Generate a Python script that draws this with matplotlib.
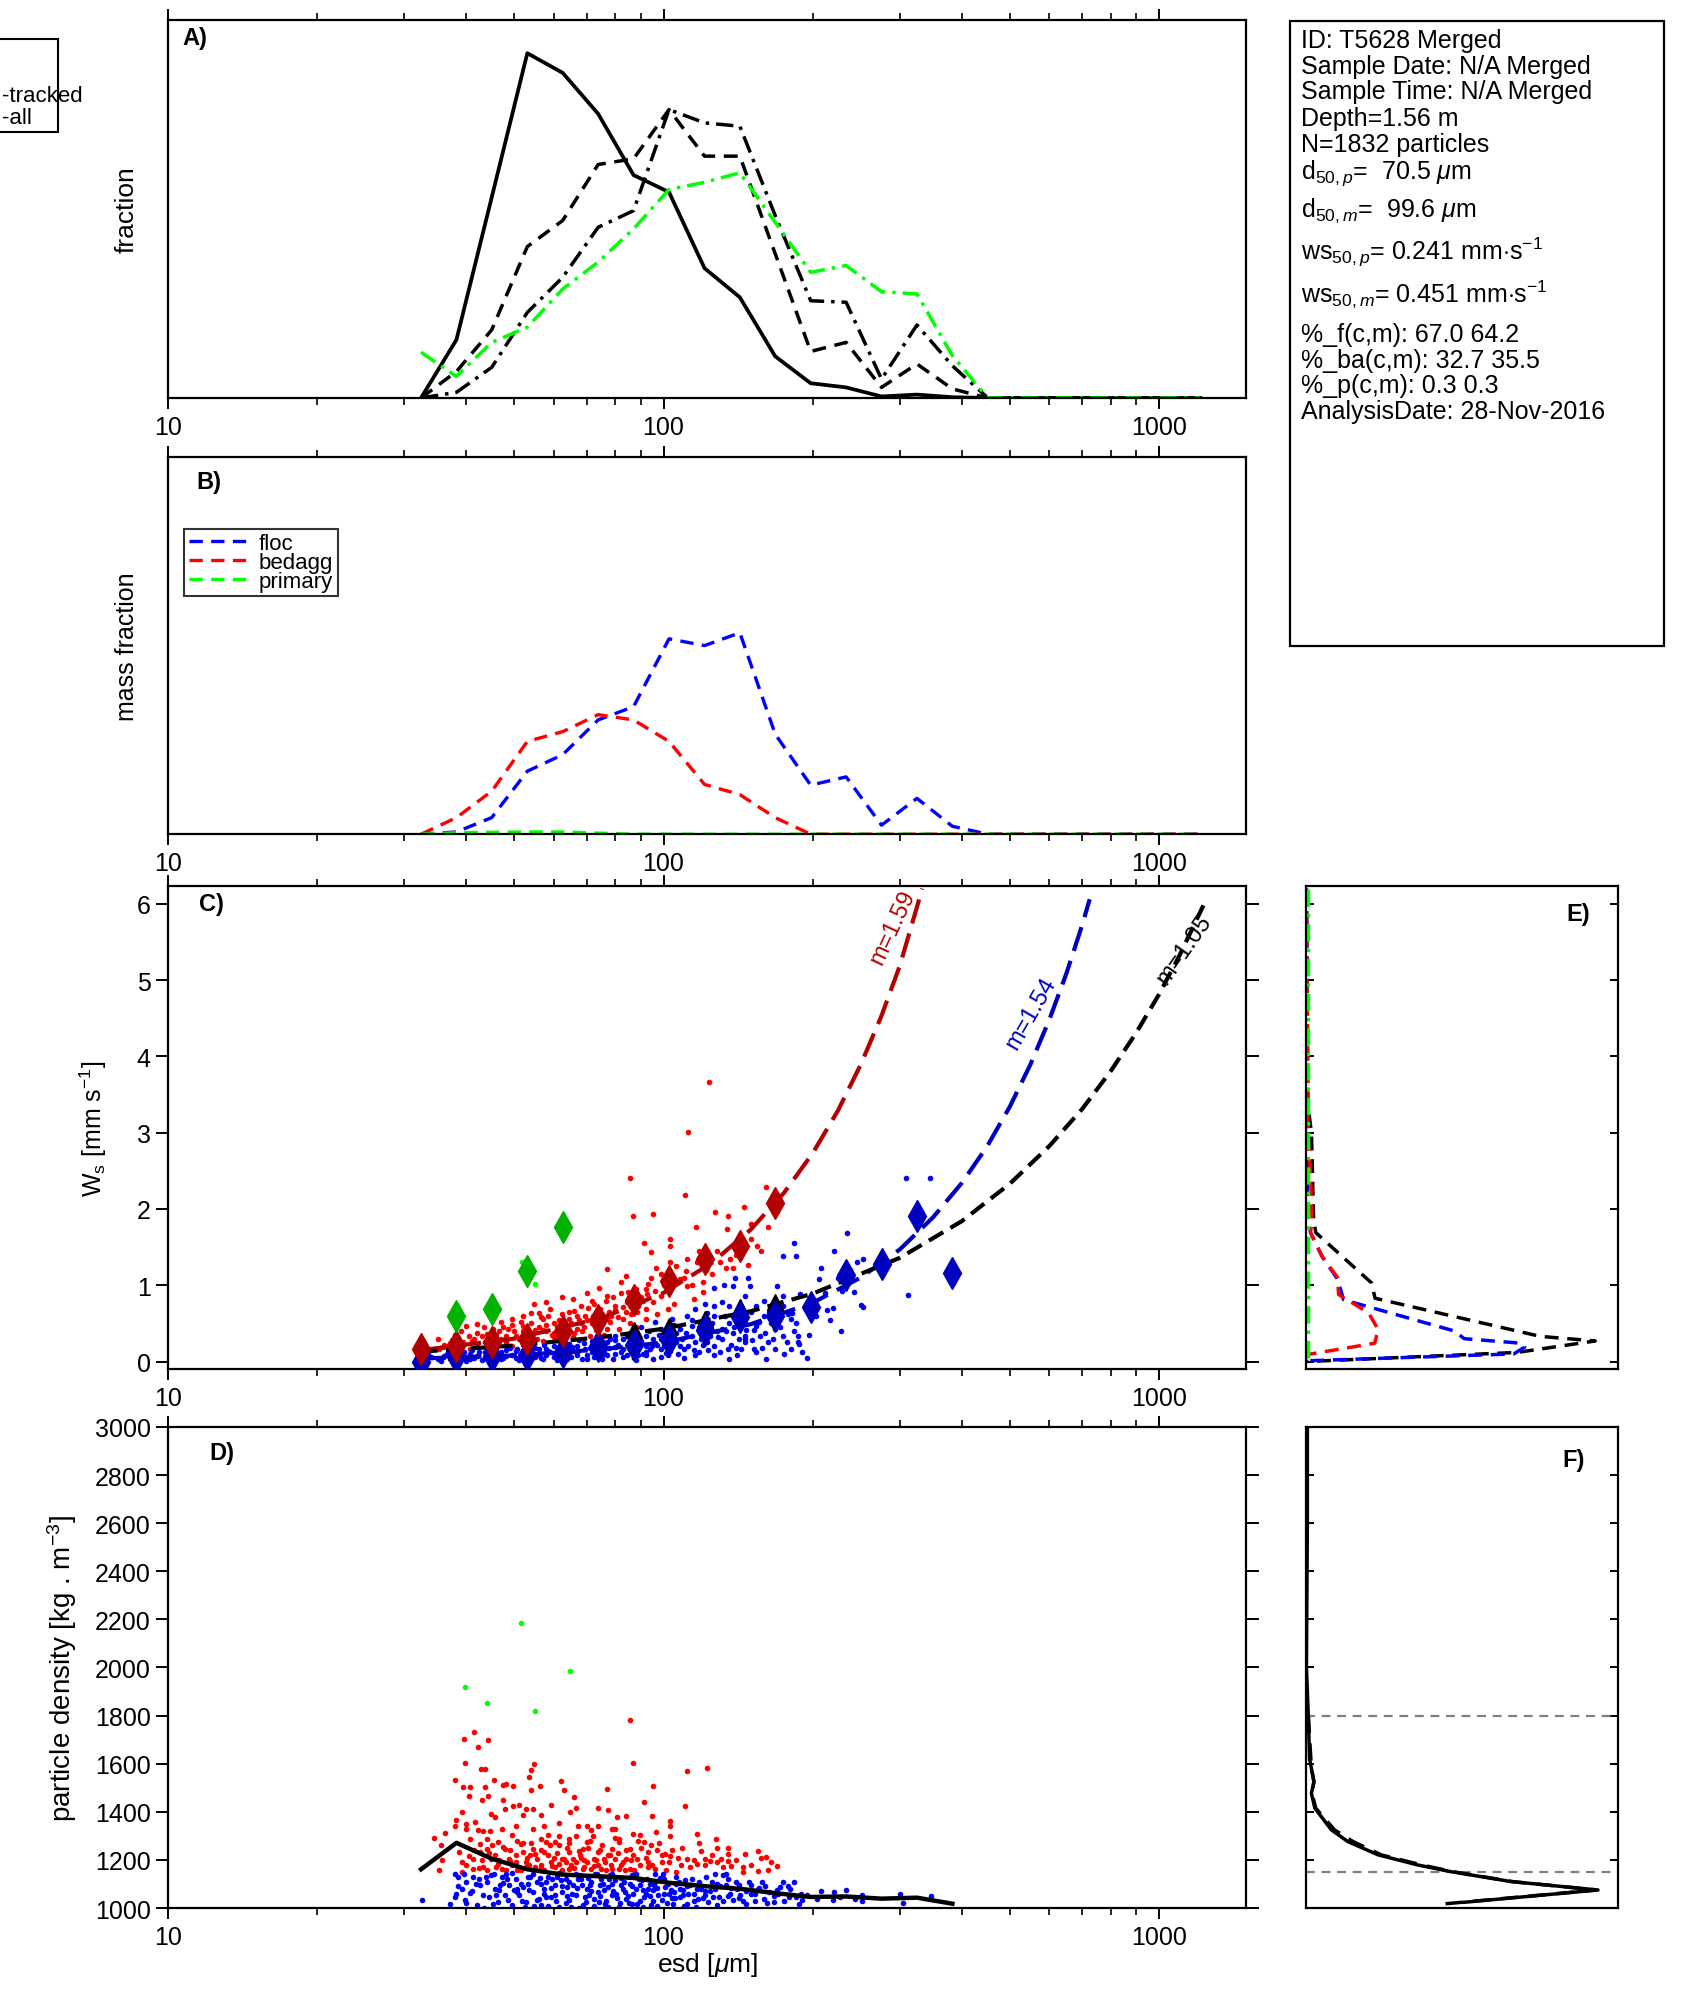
import numpy as np
import matplotlib
matplotlib.use('Agg')
import matplotlib.pyplot as plt
from matplotlib.patches import Rectangle
from matplotlib.ticker import FixedLocator, FixedFormatter, LogLocator, NullFormatter, NullLocator

plt.rcParams['font.family'] = ['Liberation Sans', 'DejaVu Sans']
plt.rcParams['mathtext.fontset'] = 'custom'
plt.rcParams['mathtext.rm'] = 'Liberation Sans'
plt.rcParams['mathtext.it'] = 'Liberation Sans:italic'
plt.rcParams['mathtext.bf'] = 'Liberation Sans:bold'
plt.rcParams['axes.linewidth'] = 1.6

# size bins (esd, um)
esd_bins = [32.4, 38.2, 45.0, 53.1, 62.6, 73.8, 87.0, 102.6, 121.0, 142.6, 168.1, 198.2,
            233.7, 275.5, 324.8, 383.0, 451.5, 532.3, 627.6, 740.0, 872.4, 1028.6, 1212.7]

# A) number / mass fractions (relative units)
frac_solid = [0, 0.154, 0.53, 0.911, 0.859, 0.751, 0.589, 0.544, 0.343, 0.266, 0.110, 0.039,
              0.028, 0.004, 0.009, 0.002, 0, 0, 0, 0, 0, 0, 0]
frac_dash = [0, 0.07, 0.18, 0.40, 0.469, 0.617, 0.632, 0.762, 0.639, 0.639, 0.381, 0.123,
             0.147, 0.028, 0.09, 0.024, 0, 0, 0, 0, 0, 0, 0]
frac_dashdot = [0, 0.015, 0.081, 0.226, 0.319, 0.451, 0.495, 0.762, 0.727, 0.718, 0.482, 0.257,
                0.253, 0.05, 0.193, 0.085, 0, 0, 0, 0, 0, 0, 0]
frac_green = [0.121, 0.057, 0.147, 0.187, 0.288, 0.359, 0.447, 0.551, 0.570, 0.595, 0.464, 0.332,
              0.35, 0.281, 0.275, 0.112, 0, 0, 0, 0, 0, 0, 0]

# B) mass fraction per class
mass_floc = [0, 0.006, 0.044, 0.167, 0.211, 0.303, 0.338, 0.518, 0.50, 0.534, 0.265, 0.13,
             0.152, 0.024, 0.095, 0.021, 0, 0, 0, 0, 0, 0, 0]
mass_bedagg = [0, 0.044, 0.114, 0.246, 0.272, 0.317, 0.303, 0.246, 0.132, 0.105, 0.044, 0,
               0, 0, 0, 0, 0, 0, 0, 0, 0, 0, 0]
mass_primary = [0, 0.004, 0.005, 0.006, 0.006, 0.003, 0, 0, 0, 0, 0, 0,
                0, 0, 0, 0, 0, 0, 0, 0, 0, 0, 0]

# C) bin means of settling velocity (mm/s)
ws_mean_bedagg = [0.16, 0.21, 0.25, 0.29, 0.40, 0.54, 0.81, 1.05, 1.35, 1.52, 2.08]
ws_mean_floc = [0.0, 0.06, 0.07, 0.09, 0.13, 0.20, 0.22, 0.28, 0.42, 0.58, 0.60, 0.72,
                1.14, 1.28, 1.91, 1.16]
ws_mean_primary = [0.60, 0.69, 1.19, 1.77]
ws_mean_all = [0.09, 0.13, 0.16, 0.19, 0.24, 0.31, 0.42, 0.47, 0.56, 0.71, 0.78]

# C) fitted curves
fit_red_esd = [32.4, 50, 75, 100, 125, 150, 175, 200, 225, 250, 275, 300, 333]
fit_red_ws = [0.15, 0.30, 0.57, 0.90, 1.29, 1.73, 2.21, 2.73, 3.29, 3.89, 4.52, 5.19, 6.2]
fit_blue_esd = [32.4, 50, 75, 100, 150, 200, 250, 300, 350, 400, 450, 500, 550, 600, 650, 700, 725]
fit_blue_ws = [0.04, 0.08, 0.16, 0.25, 0.49, 0.77, 1.10, 1.47, 1.89, 2.34, 2.82, 3.34, 3.89,
               4.47, 5.08, 5.72, 6.06]
fit_black_esd = [32.4, 50, 75, 100, 150, 200, 300, 400, 500, 600, 700, 800, 900, 1000, 1100, 1230]
fit_black_ws = [0.13, 0.21, 0.32, 0.43, 0.66, 0.89, 1.36, 1.84, 2.33, 2.82, 3.31, 3.81, 4.31,
                4.81, 5.32, 5.98]

# C) individual particles (esd um, ws mm/s)
c_red = np.array([
    (85.7, 2.41), (110.4, 2.18), (95.3, 1.93), (86.9, 1.91), (127.3, 1.96), (134.7, 1.91),
    (145.4, 2.03), (160.9, 2.29), (116.5, 1.76), (134.3, 1.74), (162.4, 1.77), (103.2, 1.61),
    (103.2, 1.52), (91.3, 1.55), (94.5, 1.43), (111.4, 1.35), (103.2, 1.31), (154.7, 1.52),
    (148, 1.26), (133.6, 1.23), (138.4, 1.23), (77.0, 1.21), (83.9, 1.12), (94.5, 1.10),
    (96.7, 1.22), (110.8, 1.19), (120, 1.04), (120, 0.91), (111.8, 0.99), (74.1, 0.96),
    (82, 1.04), (77, 0.86), (84.9, 0.91), (92, 0.95), (98.8, 0.86), (62.3, 0.84), (65.7, 0.82),
    (54.8, 0.75), (54, 0.64), (56, 0.64), (59, 0.69), (68, 0.73), (71.8, 0.80), (79.8, 0.73),
    (84.2, 0.78), (88.8, 0.73), (92, 0.69), (95.3, 0.78), (102.3, 0.69), (40, 0.47), (42.1, 0.49),
    (45.2, 0.43), (49.4, 0.56), (52.1, 0.60), (48.6, 0.43), (52.1, 0.40), (57, 0.56), (60.1, 0.51),
    (64.5, 0.56), (69.3, 0.60), (74.3, 0.69), (78.4, 0.60), (82.7, 0.56), (85.7, 0.51), (39.3, 0.25),
    (41.4, 0.29), (36.6, 0.21), (35.3, 0.16), (43.7, 0.25), (46.9, 0.29), (50.3, 0.34), (54, 0.36),
    (58, 0.40), (62.3, 0.47), (66.8, 0.43), (71.8, 0.51), (77, 0.56), (81.2, 0.43), (92, 0.56),
    (77, 0.43), (71.1, 0.34), (65.7, 0.32), (61.2, 0.29), (57, 0.27), (53.1, 0.25), (49.4, 0.21),
    (45.2, 0.19), (40.6, 0.16), (123.4, 3.66), (112.1, 3.01), (88, 0.45), (97, 0.62), (105, 0.75),
    (115, 0.82), (125, 1.15), (130, 1.30), (100, 1.0), (108, 1.08), (140, 1.40), (150, 1.6),
    (118, 1.45), (35, 0.30), (38, 0.35), (44, 0.36), (48, 0.33), (52, 0.47), (56, 0.45), (60, 0.38),
    (64, 0.35), (68, 0.50), (73, 0.42), (76, 0.35), (86, 0.62), (90, 0.85), (66, 0.66), (70, 0.90),
    (58, 0.78), (47, 0.52), (42, 0.38), (36, 0.22), (37.5, 0.28), (39, 0.40), (40.5, 0.33),
    (42, 0.22), (43.5, 0.45), (45, 0.30), (46.5, 0.40), (48, 0.25), (49.5, 0.48), (51, 0.30),
    (52.5, 0.38), (54, 0.50), (55.5, 0.30), (57, 0.42), (58.5, 0.60), (60, 0.32), (61.5, 0.55),
    (63, 0.40), (64.5, 0.65), (66, 0.38), (67.5, 0.55), (69, 0.45), (70.5, 0.70), (72, 0.60),
    (73.5, 0.48), (75, 0.62), (76.5, 0.80), (78, 0.52), (80, 0.68), (82, 0.90), (84, 0.65),
    (86, 0.75), (88, 0.95), (91, 0.80), (93, 1.02), (96, 0.92), (99, 1.15), (102, 0.95),
    (106, 1.25), (110, 1.10), (114, 1.00), (117, 1.30), (122, 1.20), (128, 1.45), (136, 1.35),
    (142, 1.55), (150, 1.80), (157, 1.45), (35.8, 0.19), (37, 0.24), (38.5, 0.31), (41, 0.27),
    (43, 0.33), (44.5, 0.28), (46, 0.35), (47.5, 0.45), (50, 0.40), (51.5, 0.52), (53, 0.33),
    (55, 0.42), (56.5, 0.58), (58, 0.48), (59.5, 0.35), (61, 0.45), (62.5, 0.62), (65, 0.50),
    (67, 0.60), (68.5, 0.40), (70, 0.55), (72.5, 0.75), (74.5, 0.55), (77.5, 0.65), (79, 0.85),
    (81, 0.58), (83, 0.72), (85.5, 0.85), (88.5, 0.65), (92.5, 0.88)])
c_blue = np.array([
    (309.3, 2.41), (345, 2.40), (234.4, 1.69), (183.8, 1.55), (184.8, 1.38), (174.3, 1.39),
    (221.4, 1.45), (208, 1.23), (206.2, 1.08), (252.9, 1.34), (246.3, 1.30), (229.5, 0.93),
    (242, 0.91), (252.9, 0.71), (213.7, 0.67), (216.7, 0.54), (228.6, 0.40), (312, 0.87),
    (250, 0.74), (220, 0.70), (188, 0.23), (126.6, 0.97), (132.3, 1.00), (139.6, 1.10),
    (138.4, 0.99), (148, 1.10), (149.8, 0.99), (169.7, 0.99), (188.7, 0.88), (159.4, 0.80),
    (153.9, 0.73), (174.3, 0.73), (182.1, 0.64), (187, 0.34), (187, 0.25), (183.7, 0.40),
    (174.3, 0.34), (168.2, 0.16), (160.9, 0.04), (152.6, 0.16), (145.9, 0.25), (140.8, 0.08),
    (134.7, 0.16), (131.1, 0.78), (126.6, 0.73), (122.2, 0.64), (120, 0.51), (115.9, 0.69),
    (111.8, 0.60), (107.9, 0.43), (104.2, 0.56), (102.3, 0.34), (98.8, 0.43), (95.3, 0.29),
    (92, 0.34), (88.8, 0.21), (85.7, 0.25), (84.2, 0.08), (109.9, 0.16), (115.9, 0.25),
    (124.3, 0.34), (131.1, 0.43), (135.9, 0.51), (140.8, 0.60), (145.9, 0.51), (153.9, 0.47),
    (159.4, 0.60), (165.2, 0.51), (165.2, 0.73), (174.3, 0.86), (145.9, 0.86), (135.9, 0.73),
    (126.6, 0.60), (122.2, 0.43), (113.9, 0.34), (106, 0.25), (98.8, 0.16), (92, 0.12),
    (82.7, 0.16), (77, 0.08), (71.8, 0.12), (66.8, 0.08), (62.3, 0.05), (58, 0.08), (54, 0.03),
    (50.3, 0.05), (46.9, 0.03), (43.7, 0.05), (40.6, 0.03), (37.9, 0.01), (77, 0.25), (79.8, 0.34),
    (71.8, 0.27), (66.8, 0.21), (62.3, 0.16), (58, 0.16), (54, 0.12), (50.3, 0.14), (46.9, 0.12),
    (43.7, 0.12), (40.6, 0.10), (37.9, 0.08), (74.3, 0.16), (69.3, 0.16), (64.5, 0.12), (60.1, 0.21),
    (56, 0.16), (85.7, 0.38), (92, 0.21), (98.8, 0.29), (106, 0.38), (113.9, 0.47), (102.3, 0.08),
    (95.3, 0.03), (88.8, 0.08), (79.8, 0.10), (82.7, 0.29), (71.8, 0.21), (64.5, 0.23), (88.8, 0.34),
    (126.6, 0.21), (117.9, 0.12), (122.2, 0.25), (131.1, 0.29), (138.4, 0.38), (145.9, 0.34),
    (156.6, 0.34), (168.2, 0.43), (180.6, 0.56), (177.4, 0.25), (162.4, 0.25), (153.9, 0.12),
    (143.4, 0.16), (135.9, 0.03), (126.6, 0.08), (180.6, 0.16), (32.5, 0.02), (35, 0.04),
    (36, 0.07), (39, 0.05), (42, 0.07), (45, 0.09), (48, 0.07), (52, 0.09), (55, 0.06), (60, 0.11),
    (65, 0.06), (70, 0.09), (75, 0.04), (80, 0.19), (86, 0.14), (90, 0.45), (96, 0.52), (100, 0.20),
    (110, 0.05), (118, 0.40), (150, 0.65), (160, 0.38), (170, 0.55), (175, 0.10), (195, 0.05),
    (200, 0.72), (34, 0.06), (37, 0.12), (38.5, 0.03), (41, 0.15), (43, 0.02), (44.5, 0.08),
    (46, 0.16), (47.5, 0.05), (49, 0.18), (51, 0.02), (53, 0.15), (54.5, 0.20), (56.5, 0.05),
    (57.5, 0.22), (59, 0.12), (61, 0.02), (62, 0.25), (63.5, 0.09), (66, 0.14), (67.5, 0.28),
    (68.5, 0.04), (71, 0.18), (72.5, 0.06), (74, 0.26), (76, 0.13), (78, 0.30), (79, 0.04),
    (81, 0.22), (83, 0.06), (84.5, 0.33), (87, 0.18), (88, 0.02), (90, 0.27), (91, 0.10),
    (93.5, 0.40), (94, 0.16), (97, 0.22), (99, 0.06), (101, 0.36), (103, 0.14), (105, 0.48),
    (107, 0.10), (109, 0.30), (112, 0.20), (114, 0.55), (116, 0.08), (119, 0.30), (121, 0.75),
    (123, 0.15), (125, 0.50), (128, 0.40), (130, 0.12), (133, 0.60), (137, 0.22), (139, 0.45),
    (142, 0.30), (144, 0.70), (147, 0.42), (151, 0.28), (156, 0.52), (158, 0.18), (163, 0.65),
    (166, 0.30), (172, 0.45), (178, 0.62), (185, 0.50), (190, 0.12), (197, 0.35), (203, 0.60),
    (212, 0.90), (225, 1.10), (238, 1.20), (33.5, 0.10), (35.5, 0.01), (36.5, 0.10), (38, 0.06),
    (39.5, 0.13), (40, 0.01), (41.5, 0.05), (42.5, 0.12), (44, 0.16), (45.5, 0.03), (46.5, 0.10),
    (48, 0.15), (49.5, 0.08), (50.5, 0.17), (52, 0.04), (53.5, 0.11), (55, 0.18), (56, 0.09),
    (57, 0.03), (58.5, 0.14), (60, 0.06), (61.5, 0.17), (63, 0.13), (64, 0.03), (65.5, 0.19),
    (67, 0.11), (69, 0.24), (70, 0.03), (72, 0.15), (73.5, 0.22), (75, 0.09), (77.5, 0.18),
    (80, 0.28), (82, 0.12), (85, 0.20), (87, 0.05), (89, 0.30), (92, 0.08), (95, 0.20), (98, 0.35),
    (101, 0.11), (104, 0.28), (108, 0.20), (111, 0.38), (115, 0.15), (120, 0.22), (124, 0.45),
    (129, 0.32), (134, 0.40), (140, 0.18), (146, 0.30), (152, 0.42)])
c_green = np.array([(51.7, 1.31), (55.0, 1.02)])

# D) individual particles (esd um, density kg/m3)
d_red = np.array([
    (37.9, 1533), (39.6, 1704), (41.5, 1730), (42.3, 1669), (44.3, 1700), (39.8, 1604), (42.9, 1576),
    (43.7, 1579), (39.4, 1503), (40.6, 1503), (43.7, 1503), (40.5, 1467), (43.1, 1451), (44.3, 1465),
    (45.4, 1533), (47.5, 1510), (48.1, 1517), (49.7, 1507), (53.6, 1544), (54.0, 1575), (54.7, 1600),
    (53.9, 1489), (56.4, 1507), (62.2, 1529), (63.0, 1492), (65.9, 1463), (76.9, 1496), (85.5, 1783),
    (86.6, 1604), (95.2, 1508), (111.5, 1571), (122.3, 1583), (110.5, 1425), (91.2, 1442), (94.7, 1384),
    (102.9, 1363), (103.1, 1342), (103.1, 1298), (116.8, 1309), (127.5, 1288), (134.7, 1251), (146, 1226),
    (160.8, 1213), (169.6, 1175), (162.4, 1159), (155.3, 1152), (144.8, 1148), (137, 1175), (135, 1226),
    (130.4, 1205), (128, 1191), (124.1, 1195), (121, 1205), (119.1, 1237), (116.8, 1183), (111.5, 1205),
    (108.7, 1180), (106, 1150), (104.1, 1240), (100.9, 1226), (99.2, 1191), (96.5, 1316), (94.4, 1260),
    (91.4, 1274), (89.8, 1302), (86.9, 1309), (84.1, 1381), (80.7, 1378), (80.0, 1330), (77.4, 1406),
    (73.7, 1416), (73.7, 1343), (71.3, 1323), (70.1, 1343), (67.3, 1343), (66.7, 1417), (64.8, 1399),
    (61.4, 1355), (59.4, 1429), (57.5, 1343), (56.5, 1385), (54.6, 1413), (52.8, 1413), (52.0, 1385),
    (51.2, 1429), (49.7, 1424), (47.9, 1413), (47.5, 1451), (47.1, 1330), (45.6, 1378), (44.8, 1392),
    (44.6, 1319), (43.3, 1319), (42.3, 1325), (41.6, 1357), (40.6, 1288), (39.9, 1350), (39.9, 1330),
    (39.2, 1399), (38.1, 1368), (37.9, 1343), (36.2, 1313), (35.5, 1260), (34.4, 1292), (35.3, 1159),
    (35.7, 1201), (38.6, 1233), (39.2, 1191), (41.2, 1205), (42.7, 1233), (44.1, 1247), (46.3, 1274),
    (47.9, 1247), (49.5, 1302), (50.3, 1219), (51.6, 1267), (52.8, 1191), (54.6, 1247), (56.5, 1288),
    (58.4, 1219), (60.4, 1274), (62.4, 1205), (64.6, 1233), (66.7, 1191), (68.9, 1247), (71.3, 1163),
    (73.7, 1233), (76.1, 1191), (78.7, 1247), (81.3, 1274), (84.1, 1205), (86.9, 1219), (89.8, 1177),
    (92.9, 1191), (96.0, 1163), (78.7, 1163), (73.7, 1177), (68.9, 1163), (64.6, 1163), (60.4, 1170),
    (56.5, 1177), (52.8, 1170), (49.5, 1177), (46.3, 1184), (43.3, 1170), (41.2, 1163), (39.2, 1150),
    (45.6, 1219), (48.7, 1205), (55.5, 1205), (59.4, 1191), (63.5, 1191), (67.8, 1219), (72.5, 1205),
    (77.4, 1219), (82.7, 1191), (85.5, 1247), (92.9, 1233), (99.2, 1219), (102.6, 1191), (58.4, 1302),
    (61.4, 1260), (54.6, 1330), (50.3, 1343), (44.1, 1288), (42.7, 1267), (85.5, 1163), (81.3, 1163),
    (64.6, 1288), (70.1, 1274), (78.7, 1330), (81.3, 1288), (50.3, 1191), (53.7, 1219), (57.5, 1233),
    (61.4, 1184), (65.6, 1205), (70.1, 1191), (74.9, 1163), (80.0, 1205), (88.3, 1205), (52.0, 1233),
    (47.1, 1163), (44.8, 1205), (40, 1180), (41.5, 1240), (43, 1200), (44, 1160), (45, 1260),
    (46.5, 1200), (48, 1160), (49, 1240), (50.5, 1280), (51.5, 1160), (53, 1210), (54, 1270),
    (55, 1170), (56.5, 1240), (57.5, 1160), (59, 1260), (60, 1210), (61.5, 1300), (62.5, 1160),
    (64, 1250), (65, 1180), (66.5, 1300), (68, 1210), (69, 1170), (70.5, 1250), (72, 1300),
    (73, 1200), (75, 1260), (76.5, 1160), (78, 1220), (80, 1290), (82, 1180), (84, 1240),
    (87, 1160), (90, 1250), (93, 1170), (97, 1240), (101, 1160), (107, 1210), (113, 1170),
    (118, 1270), (125, 1220), (132, 1170), (140, 1200), (150, 1180), (157, 1210), (40.5, 1215),
    (42.5, 1165), (44.5, 1230), (46, 1170), (47.5, 1255), (49, 1195), (50.5, 1160), (52, 1270),
    (53.5, 1180), (55, 1225), (56.5, 1165), (58, 1275), (59.5, 1175), (61, 1230), (63, 1205),
    (64.5, 1270), (66, 1165), (67.5, 1235), (69, 1200), (71, 1280), (72.5, 1175), (74.5, 1240),
    (76, 1205), (78.5, 1180), (81, 1230), (83.5, 1160), (86, 1200), (89, 1280), (92, 1210),
    (95, 1180), (98, 1270), (103, 1215), (109, 1250), (115, 1200), (121, 1180), (128, 1250),
    (135, 1195), (145, 1170), (155, 1235), (165, 1190)])
d_blue = np.array([
    (32.5, 1032), (37.1, 1018), (38.0, 1046), (38.4, 1129), (39.2, 1078), (40.6, 1062), (41.2, 1129),
    (42.0, 1011), (43.3, 1053), (44.1, 1108), (45.6, 1080), (46.3, 1025), (47.1, 1129), (47.9, 1053),
    (48.7, 1094), (49.5, 1011), (50.3, 1122), (51.2, 1053), (52.0, 1087), (52.8, 1025), (53.7, 1129),
    (54.6, 1066), (55.5, 1108), (56.5, 1011), (57.5, 1080), (58.4, 1129), (59.4, 1046), (60.4, 1094),
    (61.4, 1004), (62.4, 1066), (63.5, 1122), (64.6, 1032), (65.6, 1094), (66.7, 1053), (67.8, 1136),
    (68.9, 1011), (70.1, 1080), (71.3, 1108), (72.5, 1039), (73.7, 1066), (74.9, 1122), (76.1, 1018),
    (77.4, 1087), (78.7, 1053), (80.0, 1115), (81.3, 1004), (82.7, 1080), (84.1, 1039), (85.5, 1101),
    (86.9, 1060), (88.3, 1018), (89.8, 1094), (91.4, 1046), (92.9, 1080), (94.4, 1011), (96.0, 1108),
    (97.6, 1053), (99.2, 1032), (100.9, 1087), (102.6, 1060), (104.3, 1018), (106.0, 1101),
    (107.8, 1046), (109.6, 1073), (111.5, 1018), (113.3, 1094), (115.2, 1060), (117.2, 1039),
    (119.1, 1080), (121.1, 1053), (123.1, 1025), (125.2, 1108), (127.3, 1080), (129.4, 1046),
    (131.6, 1136), (133.8, 1094), (136.0, 1060), (138.3, 1032), (140.6, 1080), (143.0, 1053),
    (146.5, 1018), (149.0, 1108), (152.7, 1060), (155.3, 1080), (159.2, 1039), (163.2, 1066),
    (167.3, 1025), (169.8, 1073), (174.4, 1108), (178.8, 1046), (183.3, 1108), (187.9, 1018),
    (189.5, 1060), (204.2, 1039), (207.6, 1069), (221, 1066), (227, 1046), (234, 1073), (243, 1039),
    (252, 1053), (252, 1028), (300, 1060), (305, 1022), (346, 1048), (220, 1032), (39.9, 1108),
    (42.7, 1094), (44.8, 1136), (46.0, 1053), (48.3, 1122), (50.7, 1080), (53.3, 1129), (56.0, 1039),
    (58.0, 1108), (60.9, 1129), (64.0, 1087), (67.3, 1122), (70.7, 1053), (74.3, 1094), (78.0, 1136),
    (82.0, 1094), (86.2, 1136), (90.6, 1115), (95.2, 1073), (100.1, 1122), (105.2, 1066),
    (110.5, 1115), (116.2, 1004), (122.1, 1129), (128.4, 1011), (134.9, 1122), (141.8, 1094),
    (150.3, 1094), (157.9, 1108), (171.5, 1087), (180.3, 1080), (37.9, 1143), (78.7, 1143),
    (96.0, 1143), (127.3, 1143), (133.8, 1143), (38.5, 1090), (39.5, 1140), (40, 1020), (41, 1070),
    (42.5, 1120), (43.5, 1000), (44.5, 1045), (45.5, 1140), (46.5, 1075), (47.5, 1105), (48.5, 1035),
    (49.5, 1145), (50.5, 1065), (51.5, 1100), (52.5, 1005), (53.5, 1075), (54.5, 1140), (55.5, 1035),
    (56.5, 1100), (57.5, 1060), (58.5, 1010), (59.5, 1120), (60.5, 1055), (61.5, 1145), (62.5, 1090),
    (63.5, 1020), (64.5, 1110), (65.5, 1060), (66.5, 1140), (67.5, 1000), (68.5, 1095), (69.5, 1045),
    (70.5, 1125), (71.5, 1070), (72.5, 1010), (73.5, 1140), (74.5, 1050), (75.5, 1100), (76.5, 1030),
    (77.5, 1120), (79, 1070), (80.5, 1040), (82, 1125), (83.5, 1065), (85, 1020), (86.5, 1090),
    (88, 1140), (89.5, 1030), (91, 1075), (92.5, 1120), (94, 1050), (95.5, 1095), (97, 1010),
    (98.5, 1125), (100, 1060), (102, 1100), (104, 1040), (106, 1130), (108, 1080), (110, 1010),
    (112, 1060), (114, 1120), (117, 1080), (120, 1040), (124, 1070), (128, 1100), (132, 1030),
    (137, 1085), (142, 1040), (147, 1070), (153, 1030), (160, 1090), (167, 1050), (175, 1030),
    (185, 1045), (195, 1055), (38.2, 1060), (39.8, 1035), (41.8, 1100), (43.8, 1130), (45.2, 1015),
    (46.8, 1095), (48.2, 1140), (49.8, 1075), (51.8, 1030), (53.2, 1100), (54.8, 1010), (56.2, 1125),
    (57.8, 1045), (59.2, 1085), (60.8, 1030), (62.2, 1115), (63.8, 1050), (65.2, 1005), (66.8, 1085),
    (68.2, 1120), (69.8, 1025), (71.2, 1095), (72.8, 1140), (74.2, 1025), (75.8, 1075), (77.2, 1005),
    (78.8, 1100), (80.2, 1060), (81.8, 1020), (83.2, 1110), (84.8, 1050), (86.2, 1015), (87.8, 1080),
    (89.2, 1120), (90.8, 1005), (92.2, 1060), (93.8, 1100), (95.2, 1030), (97.2, 1085), (99.8, 1140),
    (101.5, 1020), (103.5, 1075), (105.5, 1040), (107.5, 1110), (109.5, 1055), (111.5, 1090),
    (115, 1030), (118, 1110), (121, 1070), (126, 1045), (130, 1090), (135, 1050), (140, 1110),
    (145, 1030), (150, 1060), (156, 1085), (162, 1020), (170, 1060), (178, 1090), (190, 1035)])
d_green = np.array([(39.7, 1920), (44.0, 1853), (51.6, 2186), (55.0, 1820), (64.7, 1986)])

# D) bin mean density
dens_mean = [1161, 1271, 1205, 1161, 1139, 1132, 1125, 1105, 1091, 1080, 1062, 1046, 1048, 1039, 1043, 1018]

# E) settling velocity distributions (fraction, ws)
e_black_f = [0.0, 0.005, 0.016, 0.018, 0.023, 0.03, 0.209, 0.22, 0.75, 0.926, 0.676, 0.0]
e_black_ws = [6.2, 3.35, 3.0, 2.7, 1.86, 1.69, 1.03, 0.83, 0.33, 0.27, 0.12, 0.0]
e_blue_f = [0.0, 0.003, 0.013, 0.05, 0.10, 0.119, 0.475, 0.506, 0.69, 0.70, 0.665, 0.0]
e_blue_ws = [6.2, 2.0, 1.69, 1.38, 1.08, 0.81, 0.40, 0.30, 0.24, 0.19, 0.10, 0.01]
e_red_f = [0.0, 0.005, 0.012, 0.018, 0.013, 0.05, 0.10, 0.103, 0.199, 0.23, 0.219, 0.0, 0.0]
e_red_ws = [6.2, 3.0, 2.56, 1.86, 1.69, 1.38, 1.10, 0.88, 0.64, 0.42, 0.24, 0.09, 0.0]
e_green_f = [0.004, 0.004]
e_green_ws = [6.2, 0.0]

# F) density distributions (fraction, density)
f_solid_f = [0.003, 0.003, 0.0, 0.006, 0.01, 0.016, 0.024, 0.016, 0.027, 0.08, 0.133, 0.23, 0.357,
             0.464, 0.656, 0.935, 0.507]
f_solid_d = [3000, 2600, 2000, 1800, 1620, 1580, 1525, 1477, 1415, 1325, 1276, 1221, 1179, 1151,
             1110, 1075, 1024]
f_dash_f = [0.006, 0.016, 0.024, 0.018, 0.03, 0.09, 0.15, 0.24, 0.37, 0.47, 0.66, 0.93, 0.44]
f_dash_d = [1800, 1580, 1525, 1477, 1415, 1325, 1276, 1221, 1179, 1151, 1110, 1075, 1017]
f_limits = [1800, 1150]

info_lines = ["ID: T5628 Merged", "Sample Date: N/A Merged", "Sample Time: N/A Merged",
              "Depth=1.56 m", "N=1832 particles",
              r"d$_{50,p}$=  70.5 $\mu$m", r"d$_{50,m}$=  99.6 $\mu$m",
              r"ws$_{50,p}$= 0.241 mm$\cdot$s$^{-1}$", r"ws$_{50,m}$= 0.451 mm$\cdot$s$^{-1}$",
              "%_f(c,m): 67.0 64.2", "%_ba(c,m): 32.7 35.5", "%_p(c,m): 0.3 0.3",
              "AnalysisDate: 28-Nov-2016"]
info_y = [32, 52, 72, 93, 113, 135, 164, 197, 229, 261, 281, 301, 321]

DRED = (0.7, 0, 0)
DBLUE = (0, 0, 0.75)
DGREEN = (0, 0.7, 0)
LIME = (0, 1, 0)
TICK_FS = 18
DOT = 16

W, H = 1320.0, 1570.6


def rect(l, r, t, b):
    return [l / W, 1 - b / H, (r - l) / W, (b - t) / H]


def esd_axis(ax):
    ax.set_xscale('log')
    ax.set_xlim(10, 1500)
    ax.xaxis.set_major_locator(FixedLocator([10, 100, 1000]))
    ax.xaxis.set_major_formatter(FixedFormatter(['10', '100', '1000']))
    ax.xaxis.set_minor_locator(LogLocator(base=10, subs=np.arange(2, 10)))
    ax.xaxis.set_minor_formatter(NullFormatter())
    ax.tick_params(axis='x', which='both', direction='out', top=True, bottom=True,
                   labelsize=TICK_FS, pad=4)
    ax.tick_params(axis='x', which='major', length=8, width=1.4)
    ax.tick_params(axis='x', which='minor', length=5, width=1.2)


fig = plt.figure(figsize=(16.94, 20.15), dpi=100)

# ---- A
axA = fig.add_axes(rect(131, 971, 16, 311))
esd_axis(axA)
axA.plot(esd_bins, frac_solid, color='k', lw=2.7)
axA.plot(esd_bins, frac_dash, color='k', lw=2.5, dashes=(4, 2.5))
axA.plot(esd_bins, frac_dashdot, color='k', lw=2.5, dashes=(5, 2, 1, 2))
axA.plot(esd_bins, frac_green, color=LIME, lw=2.5, dashes=(5, 2, 1, 2))
axA.set_ylim(0, 1)
axA.yaxis.set_major_locator(NullLocator())
axA.set_ylabel('fraction', fontsize=19)
axA.yaxis.set_label_coords(-0.027, 0.5)
axA.text(0.013, 0.953, 'A)', transform=axA.transAxes, fontsize=17, fontweight='bold', va='center')

# partial legend of panel A, cut off at the figure edge
fig.patches.append(Rectangle((-0.05, 1 - 104 / H), 0.05 + 45 / W, 73 / H, transform=fig.transFigure,
                             fill=False, edgecolor='k', lw=1.5))
fig.text(0.001, 1 - 75 / H, '-tracked', fontsize=16, va='center')
fig.text(0.001, 1 - 92 / H, '-all', fontsize=16, va='center')

# ---- B
axB = fig.add_axes(rect(131, 971, 357, 651))
esd_axis(axB)
axB.plot(esd_bins, mass_floc, color='b', lw=2.4, dashes=(4, 2.5), label='floc')
axB.plot(esd_bins, mass_bedagg, color='r', lw=2.4, dashes=(4, 2.5), label='bedagg')
axB.plot(esd_bins, mass_primary, color=LIME, lw=2.4, dashes=(4, 2.5), label='primary')
axB.set_ylim(0, 1)
axB.yaxis.set_major_locator(NullLocator())
axB.set_ylabel('mass fraction', fontsize=18)
axB.yaxis.set_label_coords(-0.027, 0.5)
axB.text(0.026, 0.935, 'B)', transform=axB.transAxes, fontsize=17, fontweight='bold', va='center')
leg = axB.legend(loc='upper left', bbox_to_anchor=(0.015, 0.81), fontsize=16, frameon=True,
                 fancybox=False, handlelength=2.9, labelspacing=-0.1, borderpad=0.2,
                 handletextpad=0.25, borderaxespad=0)
leg.get_frame().set_edgecolor('k')
leg.get_frame().set_linewidth(1.5)

# ---- C
axC = fig.add_axes(rect(131, 971, 691, 1068))
esd_axis(axC)
axC.scatter(c_red[:, 0], c_red[:, 1], s=DOT, color='r', linewidths=0, zorder=2)
axC.scatter(c_blue[:, 0], c_blue[:, 1], s=DOT, color='b', linewidths=0, zorder=2)
axC.scatter(c_green[:, 0], c_green[:, 1], s=DOT, color=LIME, linewidths=0, zorder=2)
axC.plot(fit_red_esd, fit_red_ws, color=DRED, lw=3, dashes=(6, 2.5), zorder=3)
axC.plot(fit_blue_esd, fit_blue_ws, color=DBLUE, lw=3, dashes=(6, 2.5), zorder=3)
axC.plot(fit_black_esd, fit_black_ws, color='k', lw=3, dashes=(4, 2), zorder=3)
axC.plot(esd_bins[:len(ws_mean_all)], ws_mean_all, '^', color='k', ms=12, zorder=4)
axC.plot(esd_bins[:len(ws_mean_floc)], ws_mean_floc, 'd', color=DBLUE, ms=16, zorder=4)
axC.plot(esd_bins[:len(ws_mean_bedagg)], ws_mean_bedagg, 'd', color=DRED, ms=16, zorder=4)
axC.plot(esd_bins[1:1 + len(ws_mean_primary)], ws_mean_primary, 'd', color=DGREEN, ms=16, zorder=4)
axC.text(290, 5.7, 'm=1.59', color=DRED, fontsize=17, rotation=65, ha='center', va='center')
axC.text(551, 4.57, 'm=1.54', color=DBLUE, fontsize=17, rotation=60, ha='center', va='center')
axC.text(1126, 5.41, 'm=1.05', color='k', fontsize=17, rotation=55, ha='center', va='center')
axC.set_ylim(-0.1, 6.24)
axC.set_yticks(range(0, 7))
axC.tick_params(axis='y', direction='out', left=True, right=True, length=9, width=1.4,
                labelsize=TICK_FS)
axC.set_ylabel(r'W$_\mathrm{s}$ [mm s$^{-1}$]', fontsize=18)
axC.yaxis.set_label_coords(-0.055, 0.5)
axC.text(0.029, 0.963, 'C)', transform=axC.transAxes, fontsize=17, fontweight='bold', va='center')

# ---- D
axD = fig.add_axes(rect(131, 971, 1113, 1488))
esd_axis(axD)
axD.scatter(d_red[:, 0], d_red[:, 1], s=DOT, color='r', linewidths=0, zorder=2)
axD.scatter(d_blue[:, 0], d_blue[:, 1], s=DOT, color='b', linewidths=0, zorder=2)
axD.scatter(d_green[:, 0], d_green[:, 1], s=DOT, color=LIME, linewidths=0, zorder=2)
axD.plot(esd_bins[:len(dens_mean)], dens_mean, color='k', lw=3.2, zorder=3)
axD.set_ylim(1000, 3000)
axD.set_yticks(range(1000, 3001, 200))
axD.tick_params(axis='y', direction='out', left=True, right=True, length=9, width=1.4,
                labelsize=TICK_FS)
axD.set_ylabel(r'particle density [kg . m$^{-3}$]', fontsize=20)
axD.yaxis.set_label_coords(-0.083, 0.5)
axD.set_xlabel(r'esd [$\mu$m]', fontsize=19, labelpad=1)
axD.text(0.038, 0.947, 'D)', transform=axD.transAxes, fontsize=17, fontweight='bold', va='center')

# ---- E
axE = fig.add_axes(rect(1018, 1261, 691, 1068))
axE.plot(e_black_f, e_black_ws, color='k', lw=2.5, dashes=(4, 2.5))
axE.plot(e_blue_f, e_blue_ws, color='b', lw=2.5, dashes=(4, 2.5))
axE.plot(e_red_f, e_red_ws, color='r', lw=2.5, dashes=(4, 2.5))
axE.plot(e_green_f, e_green_ws, color=LIME, lw=2.5, dashes=(5, 2, 1, 2))
axE.set_xlim(0, 1)
axE.set_ylim(-0.1, 6.24)
axE.set_yticks(range(0, 7))
axE.set_xticks([])
axE.tick_params(axis='y', direction='in', left=True, right=True, length=6, width=1.4,
                labelleft=False)
axE.text(0.872, 0.942, 'E)', transform=axE.transAxes, fontsize=17, fontweight='bold',
         ha='center', va='center')

# ---- F
axF = fig.add_axes(rect(1018, 1261, 1113, 1488))
for lim in f_limits:
    axF.axhline(lim, color='0.5', lw=1.6, dashes=(4, 3))
axF.plot(f_solid_f, f_solid_d, color='k', lw=2.5)
axF.plot(f_dash_f, f_dash_d, color='k', lw=2.5, dashes=(5, 3))
axF.set_xlim(0, 1)
axF.set_ylim(1000, 3000)
axF.set_yticks(range(1000, 3001, 200))
axF.set_xticks([])
axF.tick_params(axis='y', direction='in', left=True, right=True, length=6, width=1.4,
                labelleft=False)
axF.text(0.856, 0.933, 'F)', transform=axF.transAxes, fontsize=17, fontweight='bold',
         ha='center', va='center')

# ---- info box
fig.patches.append(Rectangle((1005 / W, 1 - 504 / H), 292 / W, 487 / H, transform=fig.transFigure,
                             fill=False, edgecolor='k', lw=1.6))
for line, yy in zip(info_lines, info_y):
    fig.text(1014 / W, 1 - yy / H, line, fontsize=18, va='center', ha='left')

fig.savefig('out.png', dpi=100)
